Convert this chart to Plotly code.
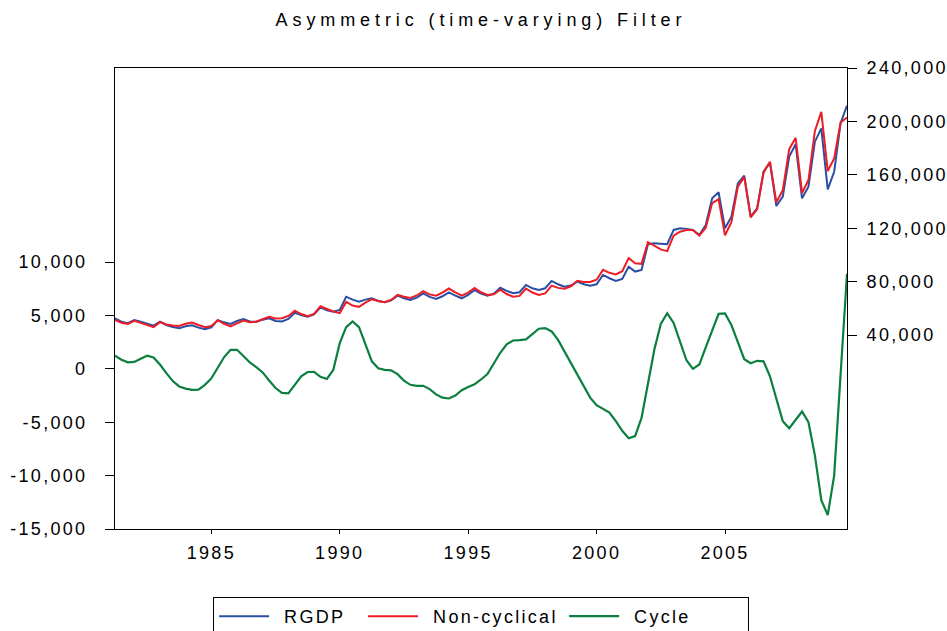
import pandas as pd
import plotly.graph_objects as go

# Quarterly observations 1981Q2 .. 2009Q4
quarters = pd.period_range("1981Q2", "2009Q4", freq="Q")
x_years = [p.year + (p.quarter - 1) / 4 for p in quarters]

rgdp = [52500, 50000, 48800, 51200, 50000, 48500, 47000, 50000, 47500, 46000,
        45000, 46500, 47300, 45500, 44300, 45800, 51200, 49500, 48300, 50500,
        52000, 50200, 50000, 51500, 52500, 50500, 50200, 52000, 56700, 55000,
        53700, 55500, 60700, 58500, 57500, 58800, 68700, 66500, 65000, 66500,
        67500, 65500, 64500, 66000, 69500, 67500, 66200, 68000, 71200, 68500,
        67000, 69000, 72000, 69500, 67500, 70000, 73700, 71000, 69500, 71000,
        75400, 73000, 71300, 72000, 77500, 75000, 73700, 75000, 80500, 78000,
        76200, 77000, 80000, 78000, 77000, 78000, 85000, 82500, 80500, 82000,
        91200, 87500, 88700, 108000, 108700, 108300, 108000, 118700, 119900, 119500,
        118700, 114900, 122400, 142400, 146900, 119900, 128600, 153600, 159300, 128600,
        134900, 162300, 169100, 136600, 143600, 173600, 182900, 142400, 151100, 184800,
        194800, 149100, 162300, 198600, 211800]

non_cyclical = [51300, 49200, 48200, 50600, 49100, 47300, 45900, 49600, 47900, 47200,
                46700, 48400, 49300, 47500, 45800, 46700, 51100, 48400, 46500, 48700,
                50800, 49600, 49900, 51800, 53600, 52300, 52500, 54300, 58200, 55700,
                54000, 55800, 61500, 59500, 57600, 56400, 64800, 62100, 61100, 64200,
                66800, 65500, 64600, 66200, 70000, 68600, 67700, 69600, 72800, 70400,
                69400, 71700, 74800, 72000, 69500, 71700, 75200, 72000, 70000, 70500,
                73900, 70700, 68700, 69300, 74800, 71800, 70000, 71200, 77000, 75300,
                74600, 76500, 80600, 79700, 79700, 81400, 88800, 86600, 85400, 87800,
                97700, 93800, 93300, 109500, 106900, 104100, 102800, 114400, 117400, 118700,
                118700, 114500, 120400, 138800, 141800, 114700, 124500, 151100, 158400, 128100,
                134200, 161600, 169800, 139400, 148500, 179200, 187700, 146400, 156100, 192900,
                207100, 162800, 172300, 199200, 202900]

cycle = [1220, 850, 600, 650, 950, 1220, 1060, 400, -400, -1150,
         -1650, -1850, -1970, -1950, -1500, -900, 100, 1100, 1780, 1780,
         1200, 590, 150, -340, -1100, -1800, -2250, -2300, -1500, -700,
         -300, -280, -750, -950, -100, 2400, 3900, 4440, 3900, 2300,
         700, 50, -100, -150, -500, -1100, -1500, -1600, -1600, -1900,
         -2400, -2700, -2780, -2500, -2000, -1700, -1450, -1000, -500, 500,
         1500, 2300, 2650, 2690, 2750, 3250, 3750, 3810, 3500, 2700,
         1600, 500, -600, -1700, -2700, -3400, -3750, -4100, -4900, -5800,
         -6500, -6300, -4600, -1500, 1800, 4200, 5200, 4300, 2500, 800,
         0, 400, 2000, 3600, 5150, 5190, 4100, 2500, 900, 520,
         750, 700, -700, -2800, -4900, -5560, -4800, -4000, -5000, -8100,
         -12300, -13700, -10000, -600, 8900]

year_ticks = [1985, 1990, 1995, 2000, 2005]
left_ticks = [-15000, -10000, -5000, 0, 5000, 10000]
left_labels = ["-15,000", "-10,000", "-5,000", "0", "5,000", "10,000"]
right_ticks = [40000, 80000, 120000, 160000, 200000, 240000]
right_labels = ["40,000", "80,000", "120,000", "160,000", "200,000", "240,000"]

FONT = "Arial, 'Liberation Sans', sans-serif"

fig = go.Figure()
fig.add_trace(go.Scatter(x=x_years, y=rgdp, name="RGDP", mode="lines", yaxis="y2",
                         line=dict(color="#2a4ea3", width=2), legendwidth=84))
fig.add_trace(go.Scatter(x=x_years, y=non_cyclical, name="Non-cyclical", mode="lines", yaxis="y2",
                         line=dict(color="#ee1c25", width=2), legendwidth=136))
fig.add_trace(go.Scatter(x=x_years, y=cycle, name="Cycle", mode="lines", yaxis="y",
                         line=dict(color="#0a7f3f", width=2.2), legendwidth=119))

fig.update_layout(
    width=947, height=631,
    margin=dict(l=115, r=100, t=68, b=102),
    paper_bgcolor="white", plot_bgcolor="white",
    font=dict(family=FONT, size=18, color="black"),
    title=dict(text="Asymmetric (time-varying) Filter", x=0.5, xref="paper",
               y=1 - 20 / 631, yref="container", yanchor="middle",
               font=dict(family=FONT, size=18, color="black")),
    xaxis=dict(range=[1981.25, 2009.75], tickvals=year_ticks, ticktext=[str(y) for y in year_ticks],
               showline=True, linecolor="black", linewidth=1, mirror=True,
               ticks="outside", ticklen=4, tickcolor="black", showgrid=False, zeroline=False,
               ticklabelstandoff=3),
    yaxis=dict(range=[-15000, 28165], tickvals=left_ticks, ticktext=left_labels,
               showline=True, linecolor="black", linewidth=1,
               ticks="outside", ticklen=9, tickcolor="black", showgrid=False, zeroline=False,
               ticklabelstandoff=14),
    yaxis2=dict(range=[-105318, 240000], tickvals=right_ticks, ticktext=right_labels,
                overlaying="y", side="right",
                showline=True, linecolor="black", linewidth=1,
                ticks="outside", ticklen=9, tickcolor="black", showgrid=False, zeroline=False,
                ticklabelstandoff=6),
    legend=dict(orientation="h", x=0.134, xanchor="left",
                yref="container", y=1 - 597 / 631, yanchor="top",
                bordercolor="black", borderwidth=1, bgcolor="white",
                itemwidth=50, font=dict(family=FONT, size=18, color="black")),
    showlegend=True,
)

css = (".main-svg text{letter-spacing:2.3px}"
       ".main-svg .gtitle{letter-spacing:4.9px}"
       ".main-svg .legendtext{transform:translateX(10px)}")
post = ("var s=document.createElement('style');s.innerHTML='" + css +
        "';document.head.appendChild(s);")
fig.write_html("out.html", post_script=post)
